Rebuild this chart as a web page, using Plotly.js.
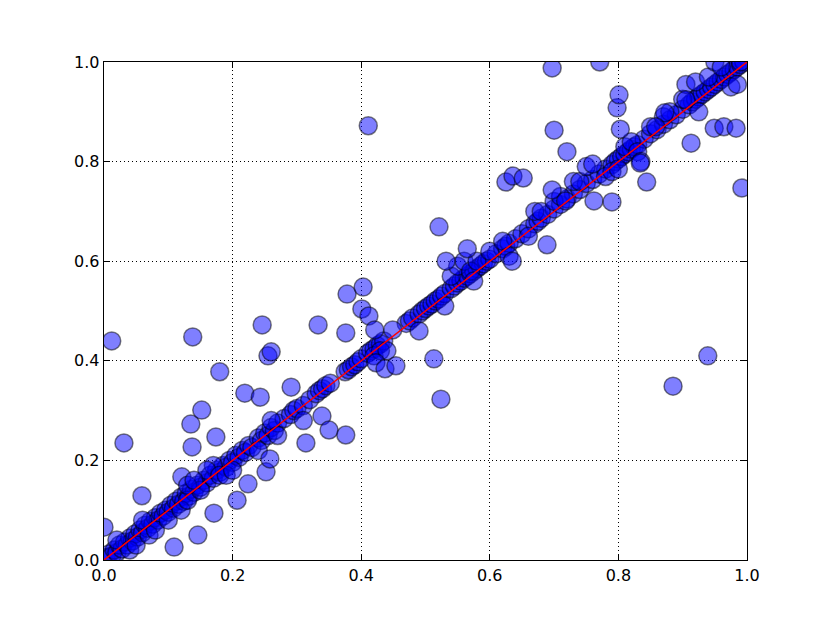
<!DOCTYPE html>
<html>
<head>
<meta charset="utf-8">
<script src="https://cdn.plot.ly/plotly-3.0.1.min.js"></script>
<style>
  body { margin: 0; background: #fff; }
  #plot { width: 830px; height: 623px; }
</style>
</head>
<body>
<div id="plot"></div>
<script>
// points lying close to the diagonal
var diagX = [0.003, 0.008, 0.012, 0.016, 0.02, 0.024, 0.028, 0.032, 0.036, 0.04, 0.044, 0.048, 0.052, 0.056, 0.06, 0.064, 0.068, 0.072, 0.076, 0.08,
  0.084, 0.088, 0.092, 0.096, 0.1, 0.104, 0.108, 0.112, 0.116, 0.12, 0.124, 0.128, 0.132, 0.136, 0.14, 0.145, 0.15, 0.155, 0.16, 0.165,
  0.17, 0.175, 0.18, 0.185, 0.19, 0.195, 0.2, 0.205, 0.21, 0.215, 0.22, 0.225, 0.23, 0.24, 0.245, 0.25, 0.255, 0.26, 0.265, 0.27,
  0.28, 0.29, 0.295, 0.3, 0.31, 0.32, 0.33, 0.335, 0.34, 0.345, 0.352, 0.375, 0.38, 0.385, 0.39, 0.395, 0.4, 0.41, 0.415, 0.42,
  0.425, 0.43, 0.435, 0.47, 0.475, 0.48, 0.49, 0.495, 0.5, 0.505, 0.51, 0.515, 0.52, 0.525, 0.53, 0.54, 0.545, 0.55, 0.555, 0.56,
  0.565, 0.57, 0.575, 0.58, 0.585, 0.59, 0.595, 0.6, 0.61, 0.62, 0.625, 0.63, 0.64, 0.65, 0.66, 0.67, 0.675, 0.68, 0.69, 0.7,
  0.71, 0.72, 0.73, 0.74, 0.75, 0.76, 0.77, 0.78, 0.79, 0.795, 0.8, 0.805, 0.81, 0.815, 0.82, 0.825, 0.83, 0.84, 0.85, 0.86,
  0.87, 0.88, 0.89, 0.9, 0.91, 0.915, 0.92, 0.925, 0.93, 0.935, 0.94, 0.945, 0.95, 0.955, 0.96, 0.965, 0.97, 0.975, 0.98, 0.985,
  0.99, 0.995];
var diagY = [0.005, 0.012, 0.008, 0.02, 0.015, 0.03, 0.022, 0.036, 0.03, 0.044, 0.038, 0.052, 0.046, 0.06, 0.055, 0.07, 0.064, 0.078, 0.072, 0.085,
  0.08, 0.094, 0.088, 0.1, 0.096, 0.11, 0.104, 0.118, 0.112, 0.126, 0.118, 0.134, 0.128, 0.142, 0.136, 0.15, 0.146, 0.16, 0.155, 0.17,
  0.164, 0.18, 0.176, 0.19, 0.186, 0.2, 0.196, 0.21, 0.206, 0.22, 0.216, 0.23, 0.226, 0.245, 0.24, 0.255, 0.25, 0.266, 0.26, 0.275,
  0.284, 0.292, 0.3, 0.304, 0.31, 0.322, 0.334, 0.34, 0.344, 0.35, 0.355, 0.378, 0.382, 0.388, 0.392, 0.398, 0.404, 0.415, 0.42, 0.424,
  0.43, 0.434, 0.44, 0.475, 0.48, 0.486, 0.494, 0.5, 0.505, 0.51, 0.514, 0.52, 0.524, 0.53, 0.535, 0.545, 0.55, 0.556, 0.56, 0.566,
  0.57, 0.575, 0.58, 0.585, 0.59, 0.595, 0.6, 0.604, 0.615, 0.625, 0.63, 0.636, 0.645, 0.655, 0.665, 0.675, 0.68, 0.686, 0.694, 0.705,
  0.714, 0.725, 0.735, 0.744, 0.756, 0.764, 0.775, 0.785, 0.794, 0.8, 0.805, 0.81, 0.815, 0.82, 0.825, 0.83, 0.834, 0.845, 0.856, 0.864,
  0.875, 0.884, 0.894, 0.905, 0.914, 0.92, 0.925, 0.93, 0.935, 0.94, 0.945, 0.95, 0.955, 0.96, 0.965, 0.97, 0.975, 0.98, 0.985, 0.99,
  0.995, 1.0];

// points a little off the diagonal
var nearX = [0.02, 0.04, 0.05, 0.07, 0.08, 0.06, 0.1, 0.121, 0.12, 0.13, 0.15, 0.17, 0.16, 0.18, 0.19, 0.2, 0.13, 0.14, 0.24, 0.26,
  0.27, 0.31, 0.42, 0.43, 0.44, 0.53, 0.54, 0.55, 0.56, 0.57, 0.58, 0.575, 0.6, 0.62, 0.63, 0.635, 0.66, 0.67, 0.68, 0.7,
  0.71, 0.73, 0.74, 0.75, 0.76, 0.78, 0.79, 0.8, 0.81, 0.82, 0.83, 0.835, 0.85, 0.87, 0.88, 0.9, 0.905, 0.92, 0.925, 0.94,
  0.95, 0.96, 0.975, 0.985, 0.99];
var nearY = [0.04, 0.02, 0.03, 0.05, 0.06, 0.08, 0.08, 0.167, 0.1, 0.12, 0.14, 0.19, 0.18, 0.17, 0.17, 0.18, 0.15, 0.16, 0.22, 0.28,
  0.25, 0.28, 0.41, 0.42, 0.42, 0.51, 0.57, 0.59, 0.6, 0.58, 0.6, 0.56, 0.62, 0.64, 0.61, 0.6, 0.65, 0.7, 0.7, 0.72,
  0.73, 0.76, 0.76, 0.79, 0.795, 0.77, 0.78, 0.785, 0.83, 0.84, 0.82, 0.8, 0.87, 0.89, 0.9, 0.925, 0.955, 0.96, 0.9, 0.97,
  1.0, 0.99, 0.95, 0.955, 1.0];

// outliers
var outX = [0.012, 0.0, 0.031, 0.059, 0.109, 0.138, 0.135, 0.137, 0.152, 0.146, 0.174, 0.18, 0.171, 0.219, 0.207, 0.246, 0.243, 0.255, 0.26, 0.224,
  0.252, 0.258, 0.291, 0.333, 0.314, 0.339, 0.35, 0.376, 0.378, 0.376, 0.411, 0.403, 0.401, 0.412, 0.421, 0.423, 0.437, 0.449, 0.454, 0.49,
  0.521, 0.513, 0.524, 0.532, 0.565, 0.625, 0.636, 0.652, 0.697, 0.7, 0.689, 0.697, 0.72, 0.718, 0.762, 0.771, 0.79, 0.798, 0.801, 0.803,
  0.844, 0.885, 0.913, 0.939, 0.949, 0.964, 0.983, 0.992, 0.905, 0.872, 0.858, 0.834];
var outY = [0.44, 0.066, 0.235, 0.129, 0.026, 0.448, 0.273, 0.227, 0.301, 0.05, 0.247, 0.378, 0.094, 0.335, 0.12, 0.472, 0.327, 0.41, 0.418, 0.153,
  0.177, 0.203, 0.347, 0.472, 0.235, 0.289, 0.261, 0.251, 0.534, 0.456, 0.872, 0.548, 0.504, 0.49, 0.462, 0.396, 0.384, 0.462, 0.39, 0.46,
  0.669, 0.404, 0.323, 0.6, 0.625, 0.759, 0.771, 0.767, 0.988, 0.863, 0.633, 0.743, 0.82, 0.721, 0.721, 1.0, 0.719, 0.908, 0.934, 0.865,
  0.759, 0.349, 0.837, 0.41, 0.867, 0.87, 0.867, 0.747, 0.924, 0.898, 0.87, 0.797];

var allX = diagX.concat(nearX, outX);
var allY = diagY.concat(nearY, outY);

var lineX = [0, 1];
var lineY = [0, 1];

var points = {
  x: allX,
  y: allY,
  mode: 'markers',
  type: 'scatter',
  marker: {
    size: 18,
    color: 'rgba(0,0,255,0.5)',
    line: { color: 'rgba(0,0,0,0.5)', width: 1.5 }
  },
  hoverinfo: 'none'
};
var diag = {
  x: lineX,
  y: lineY,
  mode: 'lines',
  type: 'scatter',
  line: { color: 'red', width: 1.5 },
  hoverinfo: 'none'
};

var axisStyle = {
  range: [0, 1],
  dtick: 0.2,
  tick0: 0,
  tickformat: '.1f',
  showgrid: true,
  gridcolor: 'black',
  griddash: '1px,3px',
  gridwidth: 1,
  zeroline: false,
  showline: true,
  linecolor: 'black',
  linewidth: 1.3,
  mirror: 'ticks',
  ticks: 'inside',
  ticklen: 6,
  tickcolor: 'black',
  tickfont: { family: 'DejaVu Sans', size: 16, color: 'black' }
};

var layout = {
  width: 830,
  height: 623,
  margin: { l: 104, r: 83, t: 62, b: 63 },
  showlegend: false,
  paper_bgcolor: 'white',
  plot_bgcolor: 'white',
  xaxis: Object.assign({}, axisStyle),
  yaxis: Object.assign({}, axisStyle)
};

Plotly.newPlot('plot', [points, diag], layout, { displayModeBar: false, staticPlot: true });
</script>
</body>
</html>
